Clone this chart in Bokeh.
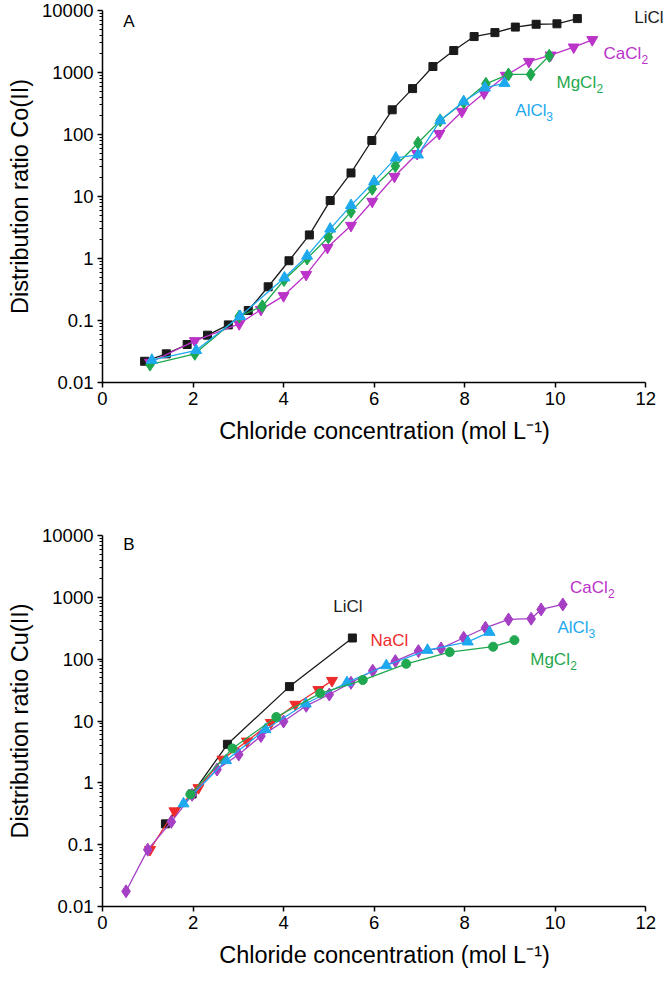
from bokeh.plotting import figure
from bokeh.models import Range1d, FixedTicker, CustomJSTickFormatter, Label
from bokeh.layouts import column
from bokeh.embed import file_html
from bokeh.resources import INLINE

FONT = "Liberation Sans"

# ---------------- Panel A: Co(II) ----------------
a_licl_x = [0.93, 1.41, 1.87, 2.32, 2.78, 3.22, 3.66, 4.12, 4.57, 5.03, 5.49, 5.95,
            6.40, 6.85, 7.30, 7.76, 8.21, 8.67, 9.12, 9.58, 10.04, 10.49]
a_licl_y = [0.022, 0.029, 0.041, 0.058, 0.085, 0.145, 0.35, 0.92, 2.4, 8.6, 24, 80,
            250, 550, 1250, 2260, 3800, 4400, 5400, 6000, 6100, 7400]

a_cacl2_x = [1.05, 2.04, 3.02, 3.50, 4.00, 4.50, 4.97, 5.49, 5.96, 6.45, 6.95, 7.44,
             7.94, 8.43, 8.91, 9.42, 9.90, 10.41, 10.82]
a_cacl2_y = [0.021, 0.047, 0.088, 0.15, 0.25, 0.55, 1.5, 3.4, 8.3, 21, 49, 103,
             235, 465, 895, 1500, 1900, 2560, 3370]

a_mgcl2_x = [1.05, 2.04, 3.02, 3.53, 4.01, 4.52, 4.99, 5.49, 5.96, 6.47, 6.97, 7.46,
             7.98, 8.47, 8.97, 9.46, 9.87]
a_mgcl2_y = [0.0195, 0.029, 0.116, 0.17, 0.45, 1.0, 2.2, 5.7, 13.3, 31, 73, 169,
             332, 656, 930, 930, 1860]

a_alcl3_x = [1.09, 2.07, 3.04, 4.02, 4.52, 5.03, 5.49, 6.00, 6.48, 6.97, 7.46, 7.98,
             8.45, 8.88]
a_alcl3_y = [0.023, 0.033, 0.117, 0.49, 1.1, 3.0, 7.2, 17.5, 42, 47, 168, 340,
             566, 672]

# ---------------- Panel B: Cu(II) ----------------
b_licl_x = [1.39, 1.98, 2.76, 4.13, 5.52]
b_licl_y = [0.217, 0.66, 4.2, 36, 220]

b_nacl_x = [1.05, 1.59, 2.12, 2.65, 3.19, 3.72, 4.26, 4.77, 5.07]
b_nacl_y = [0.083, 0.35, 0.83, 2.4, 4.7, 9.4, 18.5, 32, 45]

b_cacl2_x = [0.52, 1.00, 1.52, 1.98, 2.53, 3.01, 3.50, 4.00, 4.50, 5.01, 5.49, 5.97,
             6.47, 6.98, 7.48, 7.98, 8.46, 8.97, 9.47, 9.69, 10.17]
b_cacl2_y = [0.0176, 0.083, 0.234, 0.64, 1.64, 2.87, 5.7, 9.8, 17.6, 26.8, 41.5, 65,
             93, 135, 149, 222, 322, 439, 451, 637, 767]

b_mgcl2_x = [1.94, 2.87, 3.84, 4.81, 5.75, 6.71, 7.67, 8.63, 9.10]
b_mgcl2_y = [0.65, 3.6, 11.6, 28, 46, 84, 130, 159, 203]

b_alcl3_x = [1.79, 2.73, 3.60, 4.49, 5.40, 6.27, 7.18, 8.07, 8.55]
b_alcl3_y = [0.46, 2.3, 7.3, 19, 42, 79, 140, 191, 273]

x_ticks = [0, 2, 4, 6, 8, 10, 12]
y_ticks = [0.01, 0.1, 1, 10, 100, 1000, 10000]

BLACK = "#1a1a1a"
MAGENTA = "#bb33c9"
PURPLE = "#a53fc4"
GREEN = "#1fa84f"
CYAN = "#1ea9ef"
RED = "#ee2a2a"


def make_fig(height, btop, bbottom, ylabel):
    minor = [d * m for d in y_ticks[:-1] for m in range(2, 10)]
    p = figure(width=666, height=height, y_axis_type="log",
               x_range=Range1d(0, 12.46), y_range=Range1d(0.01, 10000),
               output_backend="svg", toolbar_location=None,
               min_border_left=102, min_border_right=0,
               min_border_top=btop, min_border_bottom=bbottom)
    p.outline_line_color = None
    p.xgrid.visible = False
    p.ygrid.visible = False
    p.background_fill_color = "white"
    p.border_fill_color = "white"

    xa = p.xaxis[0]
    xa.ticker = FixedTicker(ticks=x_ticks, minor_ticks=[])
    xa.bounds = (0, 12)
    xa.axis_label = "Chloride concentration (mol L\u207b\u00b9)"
    ya = p.yaxis[0]
    ya.ticker = FixedTicker(ticks=y_ticks, minor_ticks=minor)
    ya.formatter = CustomJSTickFormatter(code="return tick.toString();")
    ya.axis_label = ylabel
    for ax in (xa, ya):
        ax.axis_line_color = "black"
        ax.axis_line_width = 1.5
        ax.major_tick_line_color = "black"
        ax.major_tick_line_width = 1.5
        ax.minor_tick_line_color = "black"
        ax.minor_tick_line_width = 1
        ax.major_tick_in = 0
        ax.major_tick_out = 5
        ax.minor_tick_in = 0
        ax.minor_tick_out = 3
        ax.major_label_text_font = FONT
        ax.major_label_text_font_size = "18.5px"
        ax.major_label_text_color = "black"
        ax.axis_label_text_font = FONT
        ax.axis_label_text_font_size = "23.5px"
        ax.axis_label_text_font_style = "normal"
        ax.axis_label_text_color = "black"
        ax.major_label_standoff = 4
    xa.axis_label_standoff = 10
    ya.axis_label_standoff = 6
    return p


def series(p, x, y, color, marker, size):
    p.line(x, y, line_color=color, line_width=1.3)
    p.scatter(x, y, marker=marker, size=size, fill_color=color, line_color=color)


def label(p, text, x, y, color, sub=None, sub_dx=0):
    p.add_layout(Label(x=x, y=y, text=text, text_color=color, text_font=FONT,
                       text_font_size="17px", text_align="left",
                       text_baseline="middle"))
    if sub:
        p.add_layout(Label(x=x, y=y, text=sub, text_color=color, text_font=FONT,
                           text_font_size="12px", text_align="left",
                           text_baseline="middle", x_offset=sub_dx, y_offset=-6))


# Panel A
pa = make_fig(468, 10, 86, "Distribution ratio Co(II)")
series(pa, a_licl_x, a_licl_y, BLACK, "square", 8)
series(pa, a_cacl2_x, a_cacl2_y, MAGENTA, "inverted_triangle", 11)
series(pa, a_mgcl2_x, a_mgcl2_y, GREEN, "diamond", 13)
series(pa, a_alcl3_x, a_alcl3_y, CYAN, "triangle", 11)
label(pa, "A", 0.46, 6650, "black")
label(pa, "LiCl", 11.75, 7700, BLACK)
label(pa, "CaCl", 11.07, 2020, MAGENTA, "2", 38)
label(pa, "MgCl", 10.03, 690, GREEN, "2", 40)
label(pa, "AlCl", 9.12, 244, CYAN, "3", 31)

# Panel B
pb = make_fig(502, 67, 64, "Distribution ratio Cu(II)")
series(pb, b_licl_x, b_licl_y, BLACK, "square", 8)
series(pb, b_nacl_x, b_nacl_y, RED, "inverted_triangle", 11)
series(pb, b_cacl2_x, b_cacl2_y, PURPLE, "diamond", 13)
series(pb, b_alcl3_x, b_alcl3_y, CYAN, "triangle", 11)
series(pb, b_mgcl2_x, b_mgcl2_y, GREEN, "circle", 9)
label(pb, "B", 0.46, 7180, "black")
label(pb, "LiCl", 5.1, 713, BLACK)
label(pb, "NaCl", 5.92, 200, RED)
label(pb, "CaCl", 10.33, 1445, MAGENTA, "2", 38)
label(pb, "AlCl", 10.05, 326, CYAN, "3", 31)
label(pb, "MgCl", 9.45, 99, GREEN, "2", 40)

layout = column(pa, pb, spacing=0)
open("out.html", "w").write(file_html(layout, INLINE))
